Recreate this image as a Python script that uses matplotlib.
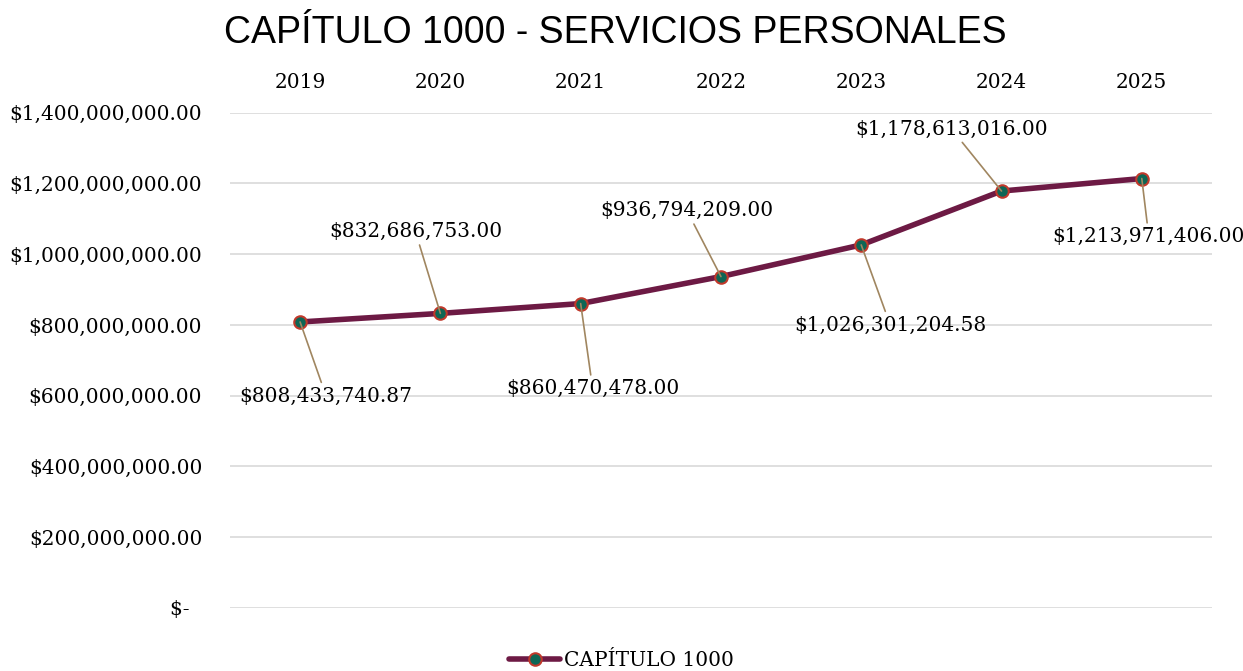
import matplotlib.pyplot as plt
from matplotlib.ticker import FuncFormatter

years = ['2019', '2020', '2021', '2022', '2023', '2024', '2025']
values = [808433740.87, 832686753.00, 860470478.00, 936794209.00,
          1026301204.58, 1178613016.00, 1213971406.00]
# label offsets from the point, in pixels (dx, dy)
offsets = [(26, -74), (-25, 82), (12, -85), (-34, 66), (29, -80), (-50, 62), (7, -58)]

def money(v, pos=None):
    if v == 0:
        return '$-  '
    return '${:,.2f}'.format(v)

fig = plt.figure(figsize=(12.43, 6.71), dpi=100)
ax = fig.add_axes([0.185, 0.094, 0.79, 0.738])

x = list(range(len(years)))
ax.plot(x, values, color='#6d1a44', linewidth=4, solid_capstyle='round',
        marker='o', markersize=9, markerfacecolor='#0e6655',
        markeredgecolor='#c0392b', markeredgewidth=1.5, label='CAPÍTULO 1000', zorder=3)

for i, v in enumerate(values):
    dx, dy = offsets[i]
    ax.annotate(money(v), xy=(i, v), xytext=(dx, dy), textcoords='offset pixels',
                ha='center', va='center', fontsize=14.5, family='DejaVu Serif',
                arrowprops=dict(arrowstyle='-', color='#a08660', lw=1.2,
                                shrinkA=1, shrinkB=0))

ax.set_xlim(-0.5, len(years) - 0.5)
ax.set_ylim(0, 1400000000)
ax.set_yticks(range(0, 1400000001, 200000000))
ax.yaxis.set_major_formatter(FuncFormatter(money))
ax.set_xticks(x)
ax.set_xticklabels(years)
ax.xaxis.tick_top()
ax.tick_params(length=0, labelsize=14.5, pad=20)
ax.tick_params(axis='x', pad=15)
for lbl in ax.get_xticklabels() + ax.get_yticklabels():
    lbl.set_family('DejaVu Serif')
ax.grid(axis='y', color='#d9d9d9', linewidth=1.2)
ax.set_axisbelow(True)
for s in ax.spines.values():
    s.set_visible(False)

fig.suptitle('CAPÍTULO 1000 - SERVICIOS PERSONALES', x=0.495, y=0.978,
             fontsize=27, family='Liberation Sans')
fig.legend(loc='lower center', bbox_to_anchor=(0.5, -0.025), frameon=False,
           prop={'family': 'DejaVu Serif', 'size': 14.5}, handlelength=2.5,
           handletextpad=0.2)

fig.savefig('out.png', dpi=100)
